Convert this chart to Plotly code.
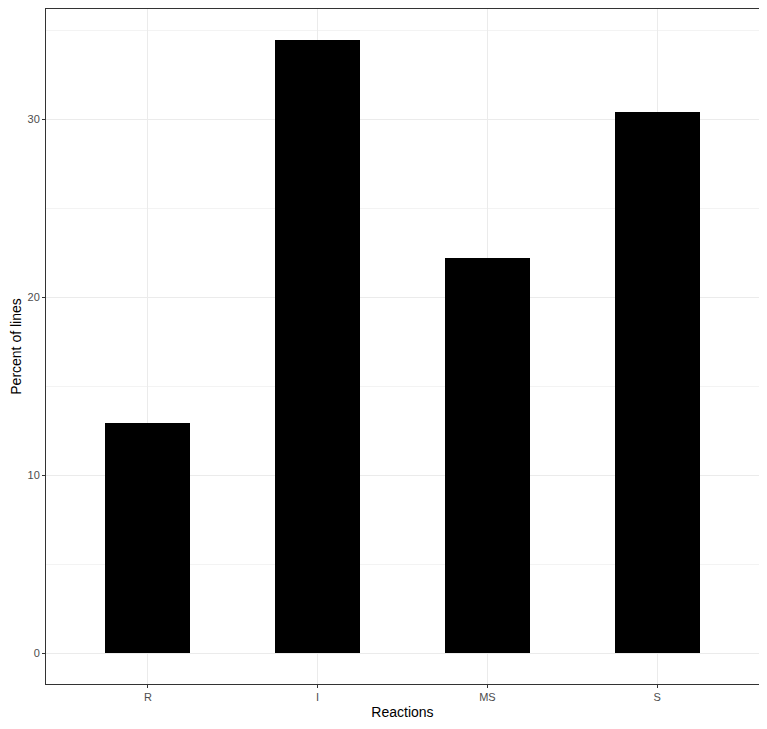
import plotly.graph_objects as go

categories = ["R", "I", "MS", "S"]
percent_values = [12.93, 34.47, 22.22, 30.39]
y_ticks = [0, 10, 20, 30]
y_minor = [5, 15, 25, 35]

fig = go.Figure(go.Bar(x=categories, y=percent_values, marker=dict(color="black", line=dict(width=0)),
                       width=0.5))

# page body has an 8px default margin, so the figure is sized/margined to compensate
fig.update_layout(
    width=756, height=720,
    margin=dict(l=38, r=5, t=1, b=44, autoexpand=False),
    plot_bgcolor="white", paper_bgcolor="white",
    font=dict(family="Liberation Sans, Arial, sans-serif"),
    showlegend=False,
    bargap=0,
)
fig.update_xaxes(
    type="category", range=[-0.6, 3.6], automargin=False,
    showgrid=True, gridcolor="#EBEBEB", gridwidth=1,
    showline=True, linecolor="#333333", linewidth=1, mirror=True,
    ticks="outside", ticklen=3, tickcolor="#333333",
    tickfont=dict(size=11, color="#4D4D4D"),
    title=dict(text="Reactions", font=dict(size=14, color="black"), standoff=4),
)
fig.update_yaxes(
    range=[-1.72, 36.19], tickvals=y_ticks, ticktext=[str(v) for v in y_ticks], automargin=False,
    showgrid=True, gridcolor="#EBEBEB", gridwidth=1, zeroline=False,
    minor=dict(tickvals=y_minor, showgrid=True, gridcolor="#F3F3F3", gridwidth=0.6, ticks=""),
    showline=True, linecolor="#333333", linewidth=1, mirror=True,
    ticks="outside", ticklen=3, tickcolor="#333333",
    tickfont=dict(size=11, color="#4D4D4D"),
    title=dict(text="Percent of lines", font=dict(size=14, color="black"), standoff=6),
)
fig.write_html("out.html")
